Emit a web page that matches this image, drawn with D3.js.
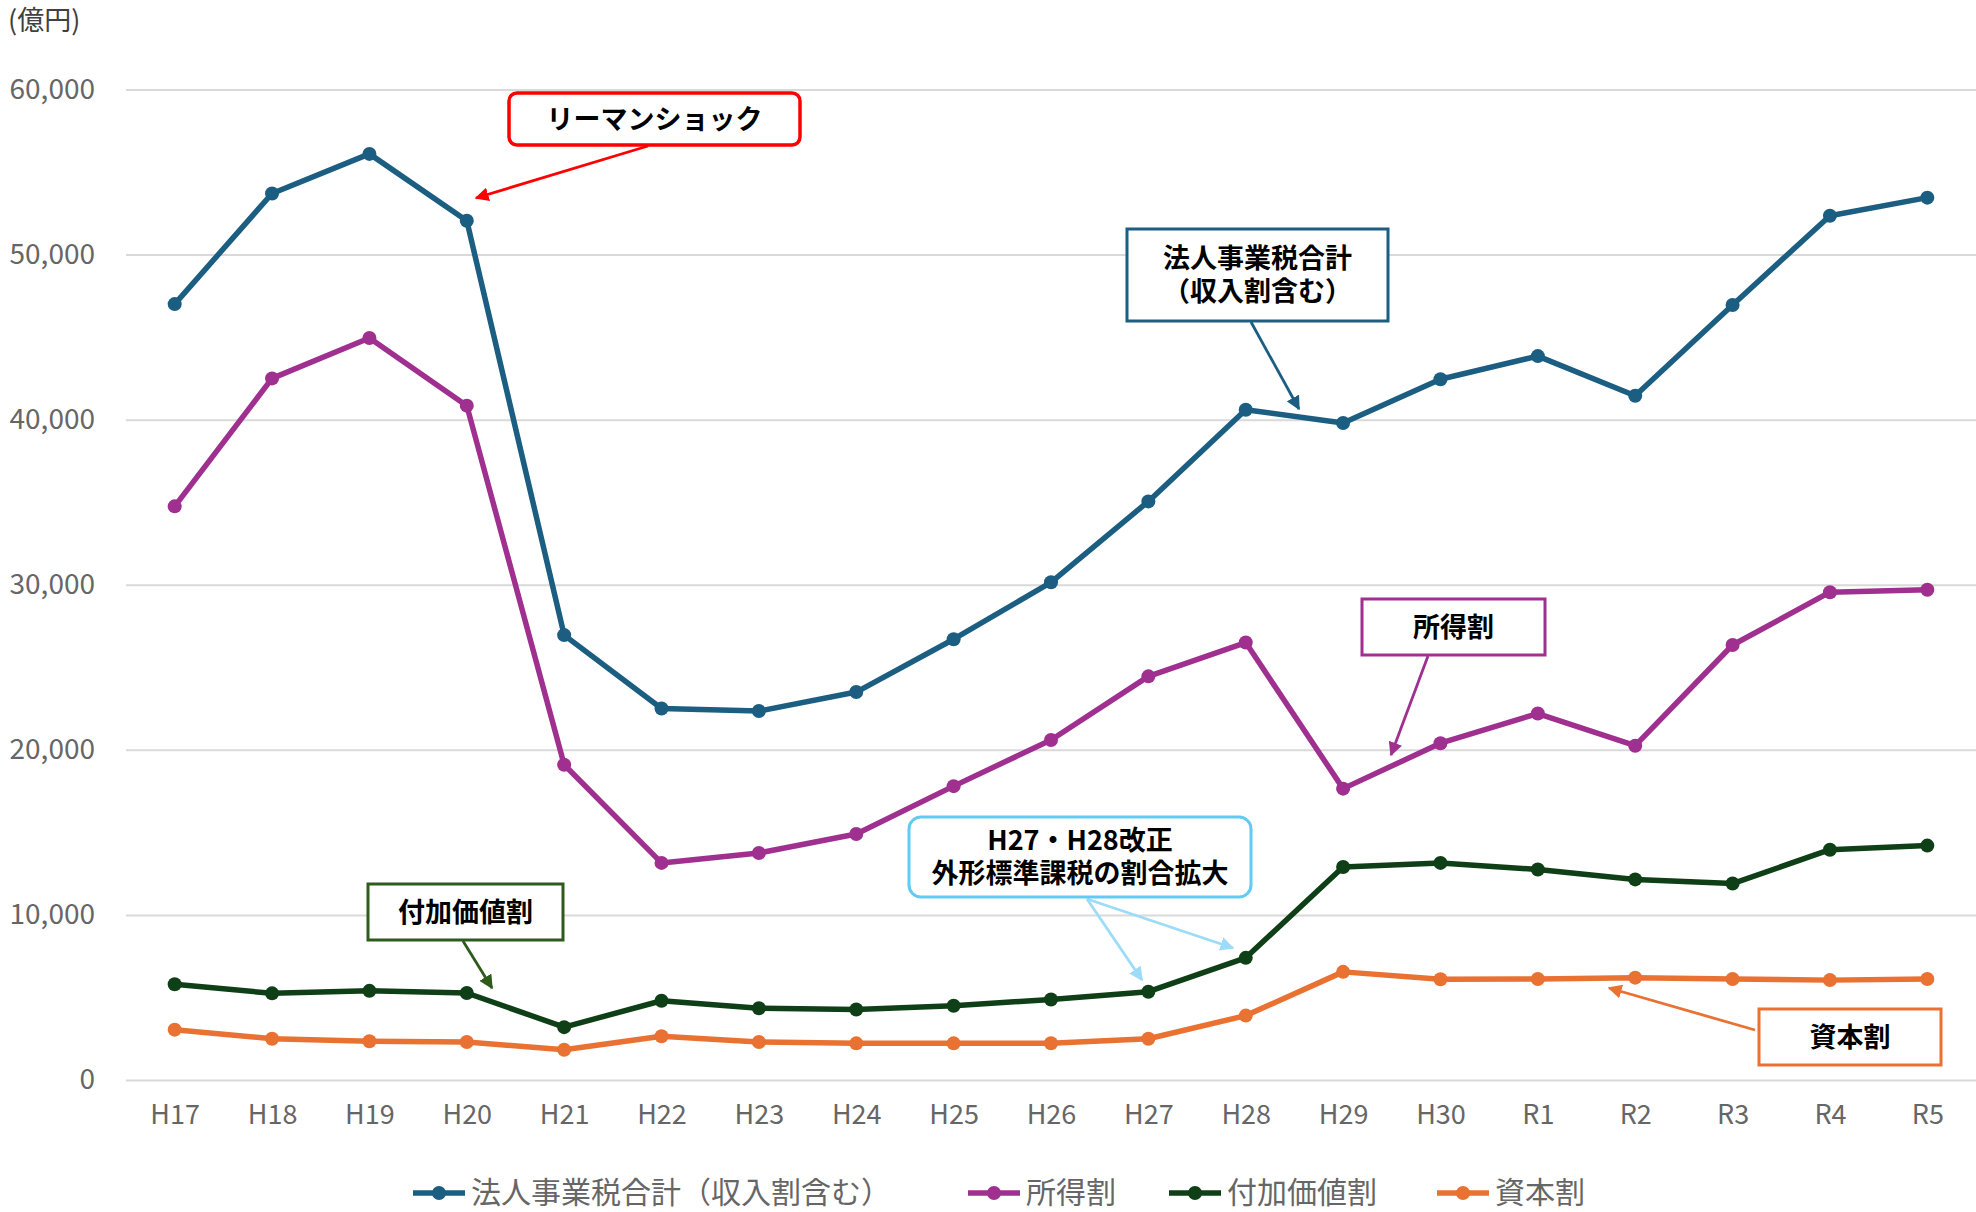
<!DOCTYPE html>
<html>
<head>
<meta charset="utf-8">
<script src="https://cdn.jsdelivr.net/npm/d3@7"></script>
<style>
  body { margin: 0; background: #fff; }
  svg { display: block; font-family: "Noto Sans CJK JP", "Noto Sans", sans-serif; }
</style>
</head>
<body>
<div id="chart"></div>
<script>
// 年度
var years = ["H17","H18","H19","H20","H21","H22","H23","H24","H25","H26","H27","H28","H29","H30","R1","R2","R3","R4","R5"];

// 億円
var totalTax   = [47000,53700,56100,52050,26950,22500,22350,23500,26700,30150,35050,40600,39800,42450,43850,41450,46950,52350,53450];
var incomeTax  = [34750,42500,44950,40850,19100,13150,13750,14900,17800,20600,24450,26500,17650,20400,22200,20250,26350,29550,29700];
var valueAdded = [5800,5250,5400,5270,3200,4800,4350,4270,4500,4880,5350,7400,12900,13150,12750,12150,11900,13950,14200];
var capitalTax = [3050,2500,2350,2300,1830,2650,2300,2220,2220,2230,2500,3900,6550,6100,6120,6200,6120,6050,6120];

var seriesNames = ["法人事業税合計（収入割含む）","所得割","付加価値割","資本割"];
var seriesColors = ["#1b5e82","#a0308f","#0f3f16","#e97132"];
var yTicks = [0,10000,20000,30000,40000,50000,60000];

var W = 1976, H = 1212;
var margin = {top: 89.5, right: 0, bottom: 132, left: 126};

var svg = d3.select("#chart").append("svg")
  .attr("width", W).attr("height", H);

var x = d3.scalePoint()
  .domain(years)
  .range([margin.left, W - margin.right])
  .padding(0.5);

var y = d3.scaleLinear()
  .domain([0, 60000])
  .range([H - margin.bottom, margin.top]);

// gridlines + y labels
var yAxis = d3.axisLeft(y)
  .tickValues(yTicks)
  .tickFormat(d3.format(","))
  .tickSize(-(W - margin.left - margin.right))
  .tickPadding(31);

svg.append("g")
  .attr("transform", "translate(" + margin.left + ",0)")
  .call(yAxis)
  .call(function(g) {
    g.select(".domain").remove();
    g.selectAll(".tick line").attr("stroke", "#d9d9d9").attr("stroke-width", 2);
    g.selectAll(".tick text").attr("fill", "#666").attr("font-size", "28px")
      .attr("font-family", "\"Noto Sans CJK JP\", sans-serif");
  });

// x labels
var xAxis = d3.axisBottom(x).tickSize(0).tickPadding(25);
svg.append("g")
  .attr("transform", "translate(0," + (H - margin.bottom) + ")")
  .call(xAxis)
  .call(function(g) {
    g.select(".domain").remove();
    g.selectAll(".tick text").attr("fill", "#666").attr("font-size", "27px")
      .attr("font-family", "\"Noto Sans CJK JP\", sans-serif");
  });

svg.append("text")
  .attr("x", 8).attr("y", 30)
  .attr("font-size", "27px").attr("fill", "#404040")
  .text("(億円)");

// lines
var allSeries = [totalTax, incomeTax, valueAdded, capitalTax];
var line = d3.line()
  .x(function(d, i) { return x(years[i]); })
  .y(function(d) { return y(d); });

// draw bottom series first so the total sits on top
allSeries.slice().reverse().forEach(function(vals, k) {
  var idx = allSeries.length - 1 - k;
  var g = svg.append("g");
  g.append("path")
    .datum(vals)
    .attr("d", line)
    .attr("fill", "none")
    .attr("stroke", seriesColors[idx])
    .attr("stroke-width", 5.5)
    .attr("stroke-linejoin", "round");
  g.selectAll("circle")
    .data(vals)
    .enter()
    .append("circle")
      .attr("cx", function(d, i) { return x(years[i]); })
      .attr("cy", function(d) { return y(d); })
      .attr("r", 7)
      .attr("fill", seriesColors[idx]);
});

// annotations
var defs = svg.append("defs");
function marker(id, color) {
  defs.append("marker")
    .attr("id", id)
    .attr("viewBox", "0 0 10 10")
    .attr("refX", 9).attr("refY", 5)
    .attr("markerWidth", 5).attr("markerHeight", 5)
    .attr("markerUnits", "strokeWidth")
    .attr("orient", "auto")
    .append("path")
      .attr("d", "M0,0 L10,5 L0,10 z")
      .attr("fill", color);
}

var notes = [
  {lines: ["リーマンショック"], box: [509, 93, 800, 145], rx: 8, stroke: "#ff0000", sw: 3.5,
   arrowColor: "#ff0000", arrows: [[648, 146, 476, 198]]},
  {lines: ["法人事業税合計", "（収入割含む）"], box: [1127, 229, 1388, 321], rx: 0, stroke: "#1b5e82", sw: 3,
   arrowColor: "#1b5e82", arrows: [[1251, 322, 1299, 409]]},
  {lines: ["所得割"], box: [1362, 599, 1545, 655], rx: 0, stroke: "#a0308f", sw: 3,
   arrowColor: "#a0308f", arrows: [[1428, 656, 1391, 755]]},
  {lines: ["付加価値割"], box: [368, 884, 563, 940], rx: 0, stroke: "#2e5a1c", sw: 3,
   arrowColor: "#2e5a1c", arrows: [[463, 941, 492, 988]]},
  {lines: ["H27・H28改正", "外形標準課税の割合拡大"], box: [909, 817, 1251, 897], rx: 12, stroke: "#61cbf3", sw: 3,
   arrowColor: "#9cdcf8", arrows: [[1087, 899, 1142, 980], [1087, 899, 1233, 948]]},
  {lines: ["資本割"], box: [1759, 1009, 1941, 1065], rx: 0, stroke: "#e97132", sw: 3,
   arrowColor: "#e97132", arrows: [[1755, 1030, 1609, 988]]}
];

notes.forEach(function(n, i) {
  var id = "arr" + i;
  marker(id, n.arrowColor);
  var g = svg.append("g");
  n.arrows.forEach(function(a) {
    g.append("line")
      .attr("x1", a[0]).attr("y1", a[1]).attr("x2", a[2]).attr("y2", a[3])
      .attr("stroke", n.arrowColor).attr("stroke-width", 2.8)
      .attr("marker-end", "url(#" + id + ")");
  });
  var b = n.box;
  g.append("rect")
    .attr("x", b[0]).attr("y", b[1])
    .attr("width", b[2] - b[0]).attr("height", b[3] - b[1])
    .attr("rx", n.rx)
    .attr("fill", "#fff")
    .attr("stroke", n.stroke).attr("stroke-width", n.sw);
  var cx = (b[0] + b[2]) / 2, cy = (b[1] + b[3]) / 2;
  var lh = 33;
  n.lines.forEach(function(t, j) {
    g.append("text")
      .attr("x", cx)
      .attr("y", cy + (j - (n.lines.length - 1) / 2) * lh)
      .attr("dy", "0.36em")
      .attr("text-anchor", "middle")
      .attr("font-size", "27px")
      .attr("font-weight", "bold")
      .attr("fill", "#000")
      .text(t);
  });
});

// legend (sits close to the bottom edge as in the original)
var legendX = [413, 968, 1169, 1437];
var legend = svg.append("g").attr("transform", "translate(0,1193)");
seriesNames.forEach(function(name, i) {
  var g = legend.append("g").attr("transform", "translate(" + legendX[i] + ",0)");
  g.append("line").attr("x1", 0).attr("x2", 52).attr("y1", 0).attr("y2", 0)
    .attr("stroke", seriesColors[i]).attr("stroke-width", 5.5);
  g.append("circle").attr("cx", 26).attr("cy", 0).attr("r", 7).attr("fill", seriesColors[i]);
  g.append("text").attr("x", 58).attr("y", 0).attr("dy", "0.32em")
    .attr("font-size", "30px").attr("fill", "#666")
    .text(name);
});
</script>
</body>
</html>
